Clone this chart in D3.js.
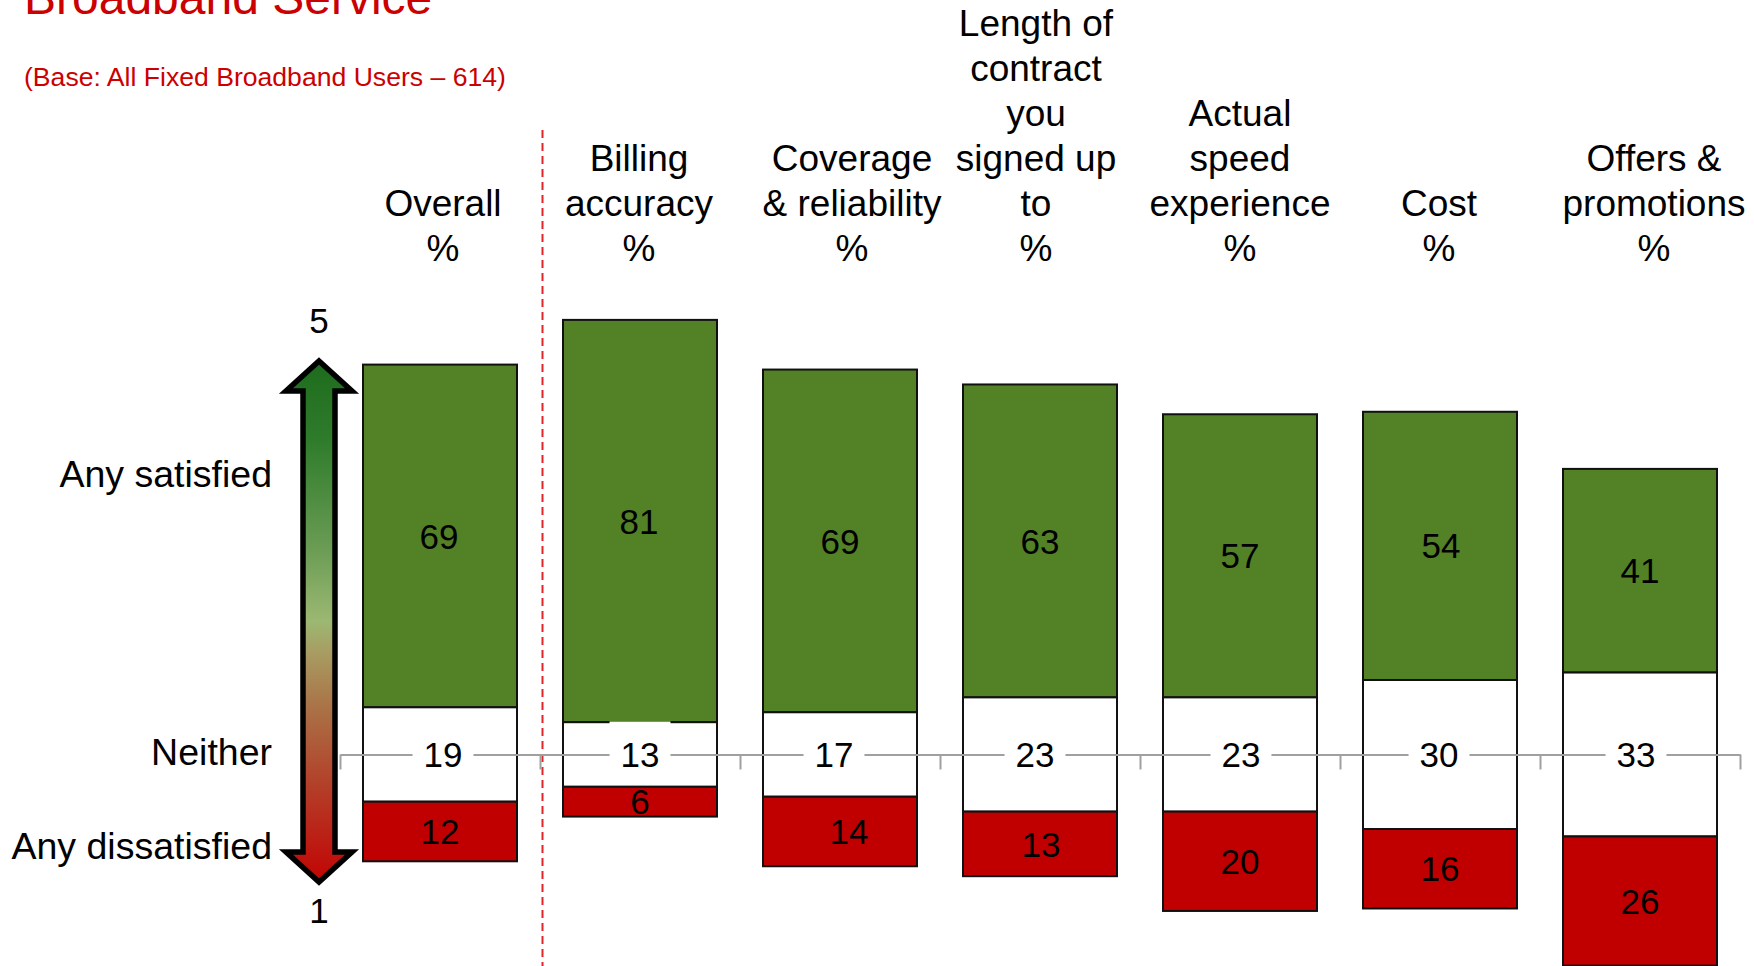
<!DOCTYPE html>
<html>
<head>
<meta charset="utf-8">
<script src="https://cdn.jsdelivr.net/npm/d3@7"></script>
<style>
  html, body { margin: 0; padding: 0; background: #fff; }
  svg { display: block; font-family: "Liberation Sans", Arial, Helvetica, sans-serif; }
</style>
</head>
<body>
<svg id="chart" width="1754" height="966"></svg>
<script>
// ---- data ----
const title = "Broadband Service";
const subtitle = "(Base: All Fixed Broadband Users \u2013 614)";
const categories = ["Overall", "Billing accuracy", "Coverage & reliability", "Length of contract you signed up to", "Actual speed experience", "Cost", "Offers & promotions"];
const headerLines = [
  ["Overall", "%"],
  ["Billing", "accuracy", "%"],
  ["Coverage", "& reliability", "%"],
  ["Length of", "contract", "you", "signed up", "to", "%"],
  ["Actual", "speed", "experience", "%"],
  ["Cost", "%"],
  ["Offers &", "promotions", "%"]
];
const satisfied    = [69, 81, 69, 63, 57, 54, 41];
const neither      = [19, 13, 17, 23, 23, 30, 33];
const dissatisfied = [12, 6, 14, 13, 20, 16, 26];
const rowLabels = ["Any satisfied", "Neither", "Any dissatisfied"];
const scaleEnds = ["5", "1"];

(function () {
// ---- layout ----
const W = 1754, H = 966;
const axisY = 754.5;
const unit = 4.967;
const svg = d3.select("#chart");

const x = d3.scaleBand().domain(categories).range([340, 1740]).paddingInner(0.23).paddingOuter(0.115);
const y = d3.scaleLinear().domain([-50, 50]).range([axisY + 50 * unit, axisY - 50 * unit]);
const xb = d3.scaleLinear().domain([0, categories.length]).range([340, 1740]);

const rows = categories.map((c, i) => ({
  cat: c, i,
  segs: [
    { key: "sat", v: satisfied[i], y0: neither[i] / 2, y1: neither[i] / 2 + satisfied[i], fill: "#538126" },
    { key: "nei", v: neither[i], y0: -neither[i] / 2, y1: neither[i] / 2, fill: "#ffffff" },
    { key: "dis", v: dissatisfied[i], y0: -neither[i] / 2 - dissatisfied[i], y1: -neither[i] / 2, fill: "#C00000" }
  ]
}));

// title
svg.append("text").attr("x", 24).attr("y", 14).attr("font-size", 48).attr("fill", "#CC0000").text(title);
svg.append("text").attr("x", 24).attr("y", 86).attr("font-size", 26.6).attr("fill", "#CC0000").text(subtitle);

// dashed separator
svg.append("line").attr("x1", 542.5).attr("x2", 542.5).attr("y1", 130).attr("y2", H)
  .attr("stroke", "#E0262B").attr("stroke-width", 2).attr("stroke-dasharray", "8,5");

// headers
const headerNudge = [3, -1, 12, -4, 0, -1, 14];
const hdr = svg.append("g").attr("font-size", 37).attr("fill", "#000").attr("text-anchor", "middle");
headerLines.forEach((lines, i) => {
  const cx = x(categories[i]) + x.bandwidth() / 2 + headerNudge[i];
  lines.forEach((ln, k) => {
    hdr.append("text").attr("x", cx).attr("y", 261 - (lines.length - 1 - k) * 45).text(ln);
  });
});

// bars
const g = svg.append("g");
rows.forEach(r => {
  r.segs.forEach(s => {
    g.append("rect")
      .attr("x", x(r.cat))
      .attr("width", x.bandwidth())
      .attr("y", y(s.y1))
      .attr("height", y(s.y0) - y(s.y1))
      .attr("fill", s.fill)
      .attr("stroke", "#111")
      .attr("stroke-width", 2);
  });
});

// axis through the neutral band
const axis = d3.axisBottom(xb).tickValues(d3.range(categories.length + 1)).tickSize(15).tickSizeOuter(0).tickFormat("");
const ax = svg.append("g").attr("transform", `translate(0,${axisY})`).call(axis);
ax.selectAll("path,line").attr("stroke", "#A0A0A0").attr("stroke-width", 2);

// value labels (small horizontal nudges as in the original)
const nudge = {
  sat: [-1, -1, 0, 0, 0, 1, 0],
  nei: [3, 0, -6, -5, 1, -1, -4],
  dis: [0, 0, 9, 1, 0, 0, 0]
};
const lab = svg.append("g").attr("font-size", 35).attr("fill", "#000").attr("text-anchor", "middle");
rows.forEach(r => {
  r.segs.forEach(s => {
    const cx = x(r.cat) + x.bandwidth() / 2 + nudge[s.key][r.i];
    const cy = s.key === "nei" ? axisY : y((s.y0 + s.y1) / 2);
    if (s.key === "nei") {
      const t = lab.append("text").attr("x", cx).attr("y", cy).attr("dy", "0.36em").text(s.v);
      const w = t.node().getComputedTextLength();
      lab.insert("rect", () => t.node())
        .attr("x", cx - w / 2 - 11).attr("width", w + 22)
        .attr("y", cy - 33).attr("height", 63)
        .attr("fill", "#fff");
    } else {
      lab.append("text").attr("x", cx).attr("y", cy).attr("dy", "0.36em").text(s.v);
    }
  });
});

// left row labels
const rowY = [487, 765, 859];
const rl = svg.append("g").attr("font-size", 37.5).attr("fill", "#000").attr("text-anchor", "end");
rowLabels.forEach((t, k) => rl.append("text").attr("x", 272).attr("y", rowY[k]).text(t));

// gradient arrow
const defs = svg.append("defs");
const grad = defs.append("linearGradient").attr("id", "arrowGrad").attr("x1", 0).attr("y1", 0).attr("x2", 0).attr("y2", 1);
[[0, "#1d6b1c"], [0.15, "#2e7c2b"], [0.35, "#679a52"], [0.5, "#9cb872"], [0.56, "#a89c62"], [0.66, "#aa7448"], [0.8, "#b2442c"], [1, "#c20404"]]
  .forEach(([o, c]) => grad.append("stop").attr("offset", o).attr("stop-color", c));
const acx = 319;
const aTop = 361, hb1 = 391, hb2 = 852, aBot = 882, hw = 33, sw = 16;
const p = d3.path();
p.moveTo(acx, aTop); p.lineTo(acx + hw, hb1); p.lineTo(acx + sw, hb1); p.lineTo(acx + sw, hb2);
p.lineTo(acx + hw, hb2); p.lineTo(acx, aBot); p.lineTo(acx - hw, hb2); p.lineTo(acx - sw, hb2);
p.lineTo(acx - sw, hb1); p.lineTo(acx - hw, hb1); p.closePath();
svg.append("path").attr("d", p.toString()).attr("fill", "url(#arrowGrad)")
  .attr("stroke", "#000").attr("stroke-width", 5.5).attr("stroke-linejoin", "miter");
svg.append("text").attr("x", acx).attr("y", 333).attr("font-size", 35).attr("text-anchor", "middle").text(scaleEnds[0]);
svg.append("text").attr("x", acx).attr("y", 923).attr("font-size", 35).attr("text-anchor", "middle").text(scaleEnds[1]);
})();
</script>
</body>
</html>
